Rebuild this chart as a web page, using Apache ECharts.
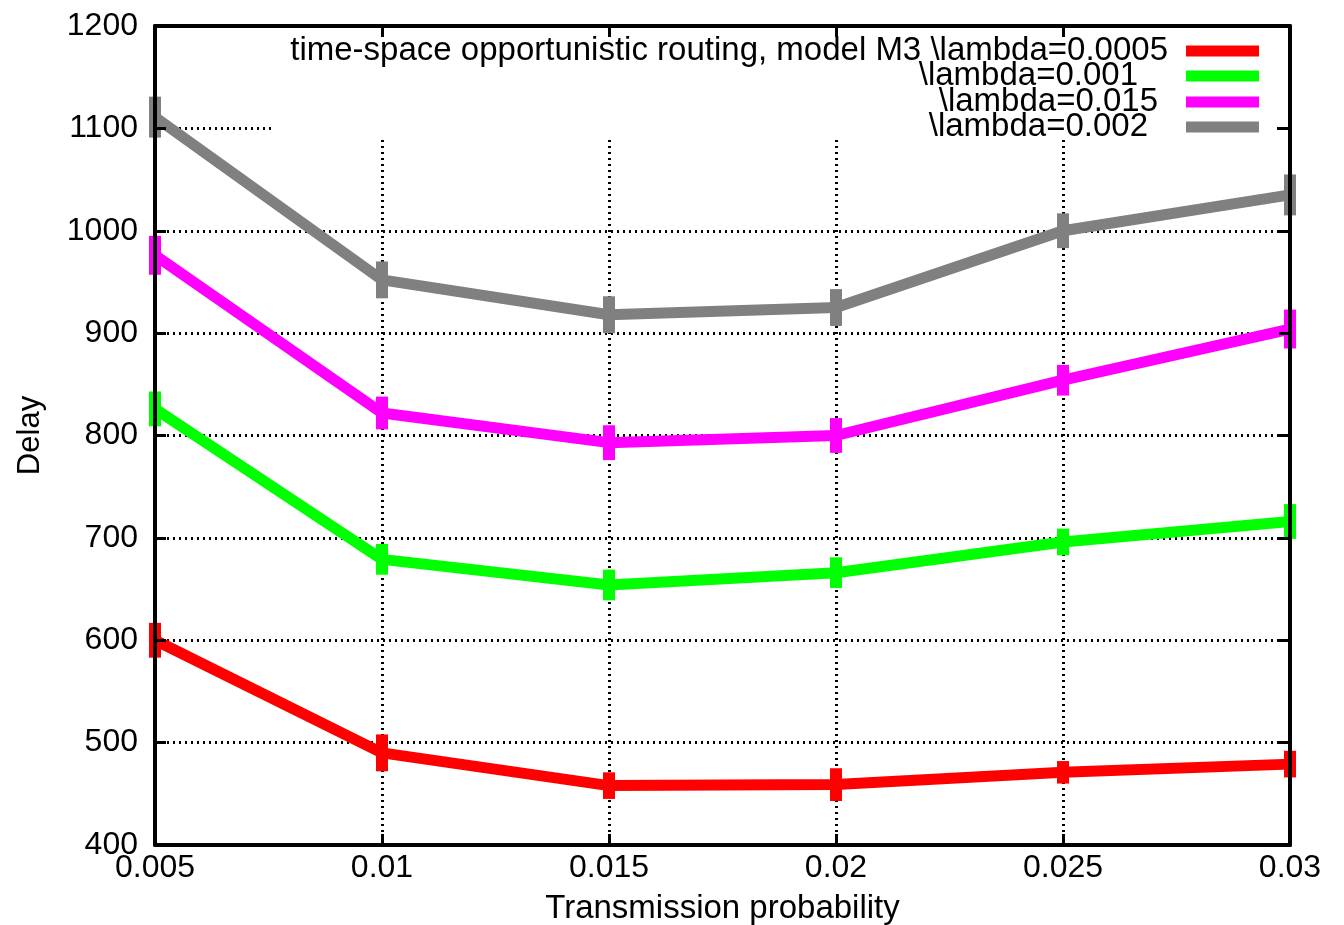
<!DOCTYPE html>
<html><head><meta charset="utf-8">
<script src="https://cdn.jsdelivr.net/npm/echarts@6/dist/echarts.min.js"></script>
<style>html,body{margin:0;padding:0;background:#fff}#c{width:1344px;height:925px}</style>
</head><body><div id="c"></div>
<script>
// ---- data ----
const xValues = [0.005, 0.01, 0.015, 0.02, 0.025, 0.03];
const seriesNames = [
  'time-space opportunistic routing, model M3 \\lambda=0.0005',
  '\\lambda=0.001',
  '\\lambda=0.015',
  '\\lambda=0.002'
];
const delayL0005 = [600, 490, 458, 459, 471, 479];
const delayL001  = [826, 679, 654, 666, 696, 716];
const delayL015  = [976, 822, 793, 800, 854, 904];
const delayL002  = [1111, 952, 918, 925, 1000, 1035];
const errL0005 = [17, 18, 13, 16, 11, 13];
const errL001  = [17, 15, 15, 15, 13, 17];
const errL015  = [19, 16, 17, 17, 15, 19];
const errL002  = [20, 18, 18, 18, 17, 20];
const yTicks = [400, 500, 600, 700, 800, 900, 1000, 1100, 1200];
const xTicks = ['0.005', '0.01', '0.015', '0.02', '0.025', '0.03'];

// ---- styles ----
const colors = ['#ff0000', '#00ff00', '#ff00ff', '#808080'];
const legendPadRight = [13, 43, 23, 33];
const legendCenters = [51, 76, 102, 127];
const FONT = 'Liberation Sans';

const delays = [delayL0005, delayL001, delayL015, delayL002];
const errs = [errL0005, errL001, errL015, errL002];

const chart = echarts.init(document.getElementById('c'), null, {renderer: 'canvas'});

const series = [];
delays.forEach((arr, i) => {
  series.push({
    name: seriesNames[i],
    type: 'line',
    data: arr.map((v, k) => [xValues[k], v]),
    symbol: 'none',
    lineStyle: {color: colors[i], width: 11},
    itemStyle: {color: colors[i]},
    z: 2,
    animation: false
  });
});
delays.forEach((arr, i) => {
  series.push({
    name: 'err' + i,
    type: 'custom',
    data: arr.map((v, k) => [xValues[k], v, errs[i][k]]),
    encode: {x: 0, y: 1},
    z: 3,
    animation: false,
    renderItem: function (params, api) {
      const x = api.value(0), y = api.value(1), e = api.value(2);
      const t = api.coord([x, y + e]);
      const b = api.coord([x, y - e]);
      const w = 12;
      return {type: 'rect', shape: {x: t[0] - w / 2, y: t[1], width: w, height: b[1] - t[1]},
              style: {fill: colors[i]}};
    }
  });
});

const legends = seriesNames.map((n, i) => ({
  data: [n],
  orient: 'vertical',
  right: 85,
  top: legendCenters[i] - 19,
  align: 'right',
  icon: 'rect',
  itemWidth: 73,
  itemHeight: 11,
  padding: 0,
  selectedMode: false,
  z: 5,
  textStyle: {fontFamily: FONT, fontSize: 33, lineHeight: 30, color: '#000',
              padding: [0, legendPadRight[i], 8, 0]}
}));

const xBase = {type: 'value', min: 0.005, max: 0.03, interval: 0.005};
const yBase = {type: 'value', min: 400, max: 1200, interval: 100};
const frameLine = {show: true, lineStyle: {color: '#000', width: 4}};
const frameTick = {show: true, inside: true, length: 11, lineStyle: {color: '#000', width: 3}};
const gridSplit = {show: true, lineStyle: {color: '#000', width: 3, type: [2, 4]}};

const option = {
  backgroundColor: '#fff',
  animation: false,
  grid: {left: 155, right: 54, top: 26, bottom: 80, containLabel: false, outerBoundsMode: 'none'},
  legend: legends,
  graphic: [{
    type: 'rect', z: 1,
    shape: {x: 272, y: 28, width: 1002, height: 112},
    style: {fill: '#fff'}
  }],
  xAxis: [
    Object.assign({}, xBase, {
      position: 'bottom', z: 0,
      name: 'Transmission probability', nameLocation: 'middle', nameGap: 47,
      nameTextStyle: {fontFamily: FONT, fontSize: 33, color: '#000'},
      axisLine: {show: false}, axisTick: {show: false},
      splitLine: gridSplit,
      axisLabel: {fontFamily: FONT, fontSize: 32, color: '#000', margin: 7,
                  formatter: function (v) { return xTicks[Math.round((v - 0.005) / 0.005)]; }}
    }),
    Object.assign({}, xBase, {
      position: 'bottom', z: 10, axisLine: frameLine, axisTick: frameTick,
      splitLine: {show: false}, axisLabel: {show: false}
    }),
    Object.assign({}, xBase, {
      position: 'top', z: 10, axisLine: frameLine, axisTick: frameTick,
      splitLine: {show: false}, axisLabel: {show: false}
    })
  ],
  yAxis: [
    Object.assign({}, yBase, {
      position: 'left', z: 0,
      name: 'Delay', nameLocation: 'middle', nameGap: 109, nameRotate: 90,
      nameTextStyle: {fontFamily: FONT, fontSize: 31, color: '#000'},
      axisLine: {show: false}, axisTick: {show: false},
      splitLine: gridSplit,
      axisLabel: {fontFamily: FONT, fontSize: 32, color: '#000', margin: 17,
                  formatter: function (v) { return String(yTicks[Math.round((v - 400) / 100)]); }}
    }),
    Object.assign({}, yBase, {
      position: 'left', z: 10, axisLine: frameLine, axisTick: frameTick,
      splitLine: {show: false}, axisLabel: {show: false}
    }),
    Object.assign({}, yBase, {
      position: 'right', z: 10, axisLine: frameLine, axisTick: frameTick,
      splitLine: {show: false}, axisLabel: {show: false}
    })
  ],
  series: series
};
chart.setOption(option);
</script></body></html>
